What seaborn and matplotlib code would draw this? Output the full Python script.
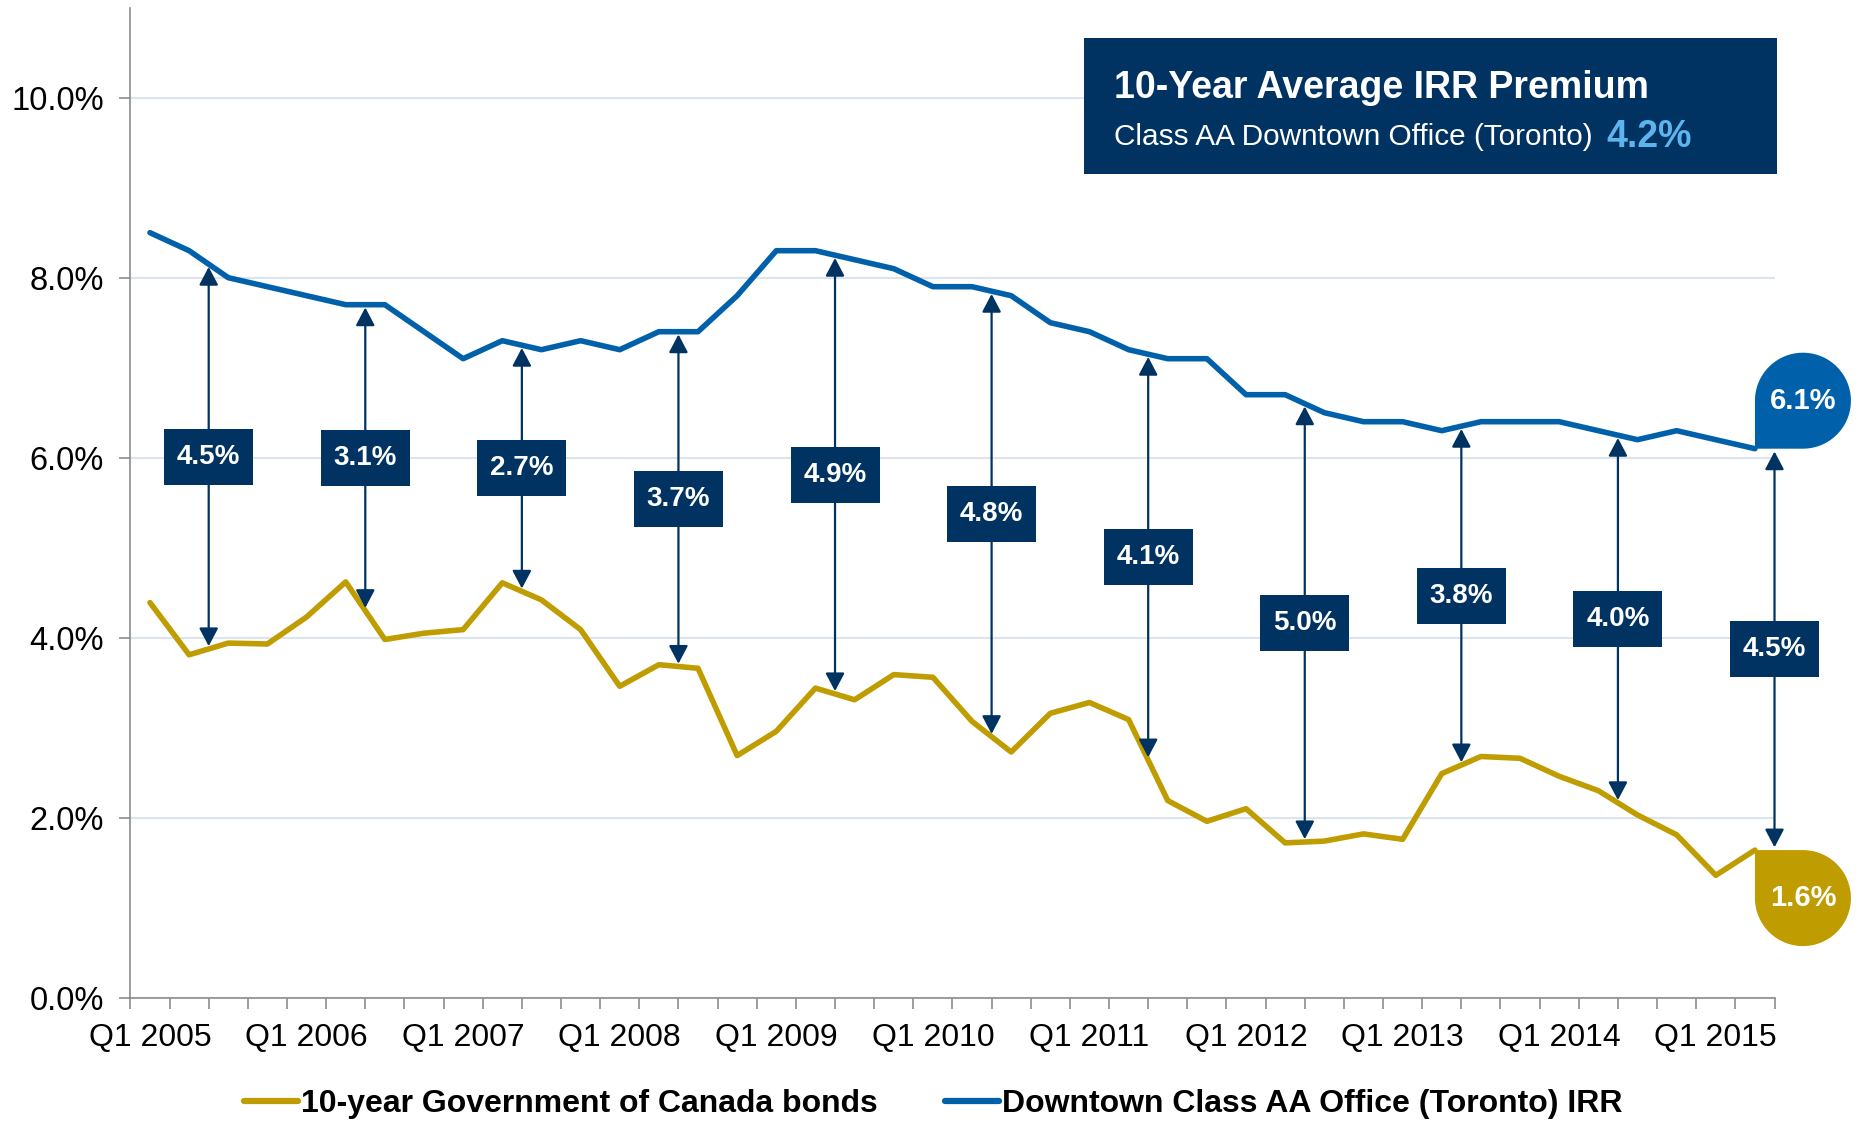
import numpy as np
import pandas as pd
import matplotlib
matplotlib.use("Agg")
import matplotlib.pyplot as plt
import matplotlib.transforms as mtransforms
from matplotlib.patches import Rectangle, PathPatch
from matplotlib.path import Path
from matplotlib.lines import Line2D
import seaborn as sns

# ---------------- data ----------------
quarters = [f"Q{q} {y}" for y in range(2005, 2016) for q in range(1, 5)][:42]

office_irr = [8.5, 8.3, 8.0, 7.9, 7.8, 7.7, 7.7, 7.4, 7.1, 7.3,
              7.2, 7.3, 7.2, 7.4, 7.4, 7.8, 8.3, 8.3, 8.2, 8.1,
              7.9, 7.9, 7.8, 7.5, 7.4, 7.2, 7.1, 7.1, 6.7, 6.7,
              6.5, 6.4, 6.4, 6.3, 6.4, 6.4, 6.4, 6.3, 6.2, 6.3,
              6.2, 6.1]

gov_bonds = [4.39, 3.81, 3.94, 3.93, 4.23, 4.62, 3.98, 4.05, 4.09, 4.61,
             4.42, 4.09, 3.46, 3.70, 3.66, 2.69, 2.96, 3.44, 3.31, 3.59,
             3.56, 3.07, 2.73, 3.16, 3.28, 3.09, 2.19, 1.96, 2.10, 1.72,
             1.74, 1.82, 1.76, 2.49, 2.68, 2.66, 2.46, 2.30, 2.03, 1.81,
             1.36, 1.64]

year_labels = ["Q1 2005", "Q1 2006", "Q1 2007", "Q1 2008", "Q1 2009", "Q1 2010",
               "Q1 2011", "Q1 2012", "Q1 2013", "Q1 2014", "Q1 2015"]

premium_labels = ["4.5%", "3.1%", "2.7%", "3.7%", "4.9%", "4.8%",
                  "4.1%", "5.0%", "3.8%", "4.0%", "4.5%"]

y_ticks = [0, 2, 4, 6, 8, 10]
y_tick_labels = ["0.0%", "2.0%", "4.0%", "6.0%", "8.0%", "10.0%"]

series_names = ["10-year Government of Canada bonds",
                "Downtown Class AA Office (Toronto) IRR"]

title_text = "10-Year Average IRR Premium"
subtitle_text = "Class AA Downtown Office (Toronto)"
avg_premium = "4.2%"

# ---------------- styles ----------------
BLUE = "#0061AA"
GOLD = "#BF9C00"
NAVY = "#003262"
LIGHT_BLUE = "#5DB4EE"
GRID = "#DCE5EE"
AXIS_GRAY = "#8C8C8C"

sns.set_theme(style="white")
plt.rcParams["font.family"] = ["Liberation Sans", "DejaVu Sans"]
plt.rcParams["text.color"] = "black"

fig = plt.figure(figsize=(18.59, 11.23), dpi=100)
ax = fig.add_axes([0.07015, 0.11158, 0.88440, 0.88157])

idx = np.arange(len(quarters))
df = pd.DataFrame({"pos": idx, "quarter": quarters,
                   "gov": gov_bonds, "irr": office_irr})

sns.lineplot(data=df, x="pos", y="gov", color=GOLD, lw=4.0, ax=ax,
             errorbar=None, sort=False, zorder=3)
sns.lineplot(data=df, x="pos", y="irr", color=BLUE, lw=4.0, ax=ax,
             errorbar=None, sort=False, zorder=3)

ax.set_xlim(-0.5, len(quarters) - 0.5)
ax.set_ylim(0, 11)
ax.set_xlabel("")
ax.set_ylabel("")

# grid / spines
ax.set_yticks(y_ticks)
ax.set_yticklabels(y_tick_labels)
ax.yaxis.grid(True, color=GRID, lw=1.5, zorder=0)
ax.xaxis.grid(False)
ax.set_axisbelow(True)
for s in ["top", "right"]:
    ax.spines[s].set_visible(False)
for s in ["left", "bottom"]:
    ax.spines[s].set_color(AXIS_GRAY)
    ax.spines[s].set_linewidth(1.2)

ax.set_xticks(np.arange(-0.5, len(quarters), 1))
ax.set_xticklabels([])
ax.set_xticks(np.arange(0, len(quarters), 4), minor=True)
ax.set_xticklabels(year_labels, minor=True)
ax.tick_params(axis="x", which="major", bottom=True, length=8, width=1.2,
               color=AXIS_GRAY, direction="out")
ax.tick_params(axis="x", which="minor", bottom=True, length=0, pad=18,
               labelsize=23, labelcolor="black")
ax.tick_params(axis="y", left=True, length=8, width=1.2, color=AXIS_GRAY,
               direction="out", pad=11, labelsize=23.5, labelcolor="black")

# premium arrows and boxes
premium_positions = np.arange(1.5, len(quarters), 4)
for pos, lab in zip(premium_positions, premium_labels):
    top = np.interp(pos, idx, office_irr)
    bot = np.interp(pos, idx, gov_bonds)
    ax.annotate("", xy=(pos, top), xytext=(pos, bot),
                arrowprops=dict(arrowstyle="<|-|>,head_length=0.55,head_width=0.29",
                                mutation_scale=20, color=NAVY, lw=1.6,
                                shrinkA=2, shrinkB=2),
                zorder=4, annotation_clip=False)
    mid = (top + bot) / 2
    tr = mtransforms.ScaledTranslation(pos, mid, ax.transData)
    ax.add_patch(Rectangle((-44.5, -28), 89, 56, transform=tr,
                           facecolor=NAVY, edgecolor="none", zorder=5,
                           clip_on=False))
    ax.text(pos, mid, lab, ha="center", va="center", color="white",
            fontsize=20, fontweight="bold", zorder=6, clip_on=False)


# end-point callouts
def callout_vertices(size, down):
    r = size / 2.0
    pts = [(0.0, 0.0), (size - r, 0.0)]
    def arc(cx, cy, a0, a1):
        t = np.linspace(np.radians(a0), np.radians(a1), 30)
        return list(zip(cx + r * np.cos(t), cy + r * np.sin(t)))
    pts += arc(size - r, r, -90, 0)
    pts += arc(size - r, size - r, 0, 90)
    pts += arc(r, size - r, 90, 180)
    pts += [(0.0, 0.0)]
    v = np.array(pts)
    if down:
        v[:, 1] = -v[:, 1]
    return v


S = 96
last = len(quarters) - 1
for value, color, down in [(office_irr[-1], BLUE, False),
                           (gov_bonds[-1], GOLD, True)]:
    tr = mtransforms.ScaledTranslation(last, value, ax.transData)
    verts = callout_vertices(S, down)
    codes = [Path.MOVETO] + [Path.LINETO] * (len(verts) - 2) + [Path.CLOSEPOLY]
    ax.add_patch(PathPatch(Path(verts, codes), transform=tr, facecolor=color,
                           edgecolor="none", zorder=7, clip_on=False))
    off = mtransforms.offset_copy(ax.transData, fig=fig, x=S / 2 * 0.72,
                                  y=(-S / 2 if down else S / 2) * 0.72,
                                  units="points")
    ax.text(last, value, f"{value:.1f}%", transform=off, ha="center",
            va="center", color="white", fontsize=21, fontweight="bold",
            zorder=8, clip_on=False)

# title box
ax.add_patch(Rectangle((0.5829, 0.8451), 0.3730, 0.1211,
                       transform=fig.transFigure, facecolor=NAVY,
                       edgecolor="none", zorder=9, clip_on=False))
fig.text(0.5995, 0.9220, title_text, color="white", fontsize=27,
         fontweight="bold", ha="left", va="center", zorder=10)
fig.text(0.5995, 0.8776, subtitle_text, color="white", fontsize=21.4,
         ha="left", va="center", zorder=10)
fig.text(0.8639, 0.8776, avg_premium, color=LIGHT_BLUE, fontsize=27,
         fontweight="bold", ha="left", va="center", zorder=10)

# legend
handles = [Line2D([0], [0], color=GOLD, lw=4.5, solid_capstyle="round"),
           Line2D([0], [0], color=BLUE, lw=4.5, solid_capstyle="round")]
if ax.get_legend() is not None:
    ax.get_legend().remove()
fig.legend(handles, series_names, loc="center", bbox_to_anchor=(0.502, 0.0170),
           ncol=2, frameon=False, prop=dict(weight="bold", size=23),
           labelcolor="black", handlelength=1.7, handletextpad=0.1,
           columnspacing=2.1)

fig.savefig("out.png", dpi=100)
